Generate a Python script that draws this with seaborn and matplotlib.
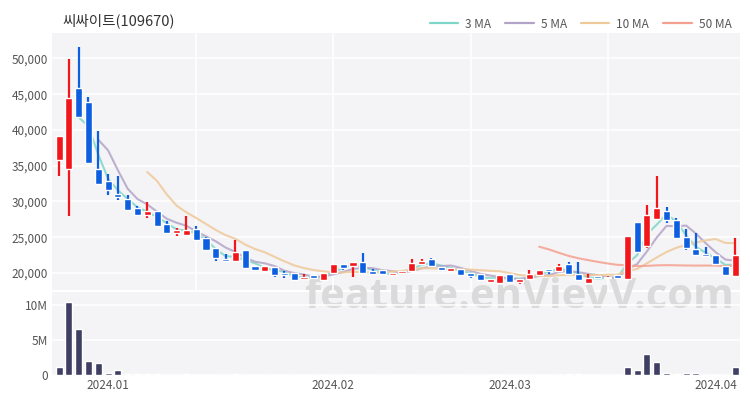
import numpy as np
import pandas as pd
import matplotlib
matplotlib.use('Agg')
import matplotlib.pyplot as plt
import seaborn as sns
from matplotlib.lines import Line2D
from matplotlib.patches import Rectangle
from matplotlib.ticker import FuncFormatter

# daily candles (trading-day index 0..69)
opens = [35800, 34600, 45800, 43900, 34500, 32900, 31100, 30400, 29150, 28150,
         28700, 26900, 25600, 25350, 26200, 24900, 23500, 21950, 21700, 23250,
         21000, 20300, 20800, 20000, 20000, 19150, 19700, 19000, 20000, 21250,
         21000, 21550, 20300, 20400, 19700, 20000, 20300, 21250, 21950, 20850,
         20300, 20550, 20000, 19850, 18750, 18600, 19850, 18750, 19150, 19700,
         20550, 20300, 21250, 19850, 18600, 19600, 19300, 19700, 19150, 27150,
         23800, 27600, 28700, 27450, 25050, 23350, 22650, 22550, 20950, 19600]
highs = [39100, 49900, 51600, 44600, 39800, 33900, 33500, 30950, 29400, 29950,
         28700, 27300, 26300, 28000, 26600, 25050, 23500, 22650, 24650, 23250,
         21000, 20980, 20800, 20300, 20000, 19850, 19700, 20000, 21300, 21250,
         21550, 22800, 20550, 20400, 20000, 20300, 22000, 21950, 22100, 20850,
         20700, 20550, 20000, 19850, 19150, 19700, 19850, 19150, 20400, 20400,
         20550, 21250, 21550, 21550, 19850, 19600, 19600, 19700, 25200, 27150,
         29550, 33500, 29250, 27700, 26200, 25600, 23650, 22550, 20950, 24900]
lows = [33600, 28000, 41700, 35400, 32500, 30950, 30250, 28850, 28150, 27700,
        26600, 25600, 25200, 25350, 24600, 23200, 21700, 21700, 21700, 20700,
        20400, 20300, 19450, 19300, 19000, 19150, 19150, 19000, 20000, 20450,
        19450, 20000, 19850, 19850, 19700, 20000, 20300, 21250, 21000, 20400,
        20300, 19700, 19300, 19000, 18750, 18600, 18750, 18450, 19150, 19700,
        19850, 20300, 19850, 19000, 18600, 19300, 19300, 19300, 19150, 22950,
        23500, 27600, 27000, 24900, 23250, 22500, 22400, 21250, 19700, 19450]
closes = [39100, 44400, 41800, 35400, 32500, 31650, 30550, 28850, 28150, 28700,
          26600, 25600, 26050, 26050, 24650, 23250, 22100, 21700, 22950, 20700,
          20400, 20980, 19750, 19750, 19000, 19450, 19300, 20000, 21250, 20700,
          21550, 20000, 19850, 19850, 20000, 20300, 21400, 21700, 21000, 20400,
          20700, 19700, 19600, 19000, 19150, 19700, 18750, 19150, 19850, 20400,
          20300, 20950, 19850, 19000, 19300, 19300, 19450, 19300, 25200, 22950,
          28150, 29150, 27450, 24900, 23500, 22550, 22400, 21250, 19700, 22550]
volumes = [1.2, 10.4, 6.6, 2.0, 1.7, 0.35, 0.65, 0.12, 0.1, 0.1,
           0.08, 0.07, 0.06, 0.08, 0.05, 0.04, 0.04, 0.03, 0.1, 0.04,
           0.03, 0.03, 0.03, 0.02, 0.02, 0.02, 0.02, 0.02, 0.03, 0.03,
           0.03, 0.06, 0.02, 0.02, 0.02, 0.02, 0.04, 0.03, 0.03, 0.02,
           0.02, 0.02, 0.02, 0.02, 0.02, 0.03, 0.02, 0.02, 0.03, 0.03,
           0.02, 0.03, 0.1, 0.2, 0.05, 0.03, 0.02, 0.03, 1.1, 0.7,
           3.0, 1.9, 0.25, 0.2, 0.25, 0.3, 0.06, 0.05, 0.05, 1.1]

tick_pos = [5, 28, 46, 67]
tick_labels = ['2024.01', '2024.02', '2024.03', '2024.04']
grid_pos = [14, 28, 42, 56]

df = pd.DataFrame({'open': opens, 'high': highs, 'low': lows,
                   'close': closes, 'volume': np.array(volumes) * 1e6})
df['idx'] = np.arange(len(df))
for n in [3, 5, 10, 50]:
    df[f'ma{n}'] = df['close'].rolling(n).mean()

sns.set_theme(style='white')
plt.rcParams['font.family'] = ['Noto Sans CJK KR', 'DejaVu Sans']

UP = '#f2161b'
DOWN = '#0d5fe0'
BG = '#f4f4f6'
ma_colors = {'3 MA': '#7dd6c8', '5 MA': '#b2a4c8', '10 MA': '#efc99a', '50 MA': '#f4a090'}

fig = plt.figure(figsize=(7.5, 4), dpi=100)
fig.patch.set_facecolor('white')

L, W = 52 / 750, 688 / 750
ax = fig.add_axes([L, 1 - 290 / 400, W, 257 / 400])
axv = fig.add_axes([L, 1 - 376 / 400, W, 84 / 400])

# backgrounds + watermark drawn under the (transparent) axes
for a in (ax, axv):
    p = a.get_position()
    fig.patches.append(Rectangle((p.x0, p.y0), p.width, p.height, transform=fig.transFigure,
                                 facecolor=BG, edgecolor='none', zorder=-3))
    a.set_facecolor('none')
fig.text(519 / 750, 1 - 298 / 400, 'feature.enVievV.com', fontsize=30, fontweight='bold',
         color='#dadada', ha='center', va='center', zorder=-1, family='Open Sans')

# candles
up = df['close'] >= df['open']
colors = np.where(up, UP, DOWN)
body_lo = np.minimum(df['open'], df['close'])
body_h = np.maximum((df['close'] - df['open']).abs(), 60)
ax.vlines(df['idx'], df['low'], df['high'], colors=colors, lw=1.6, zorder=3)
ax.bar(df['idx'], body_h, bottom=body_lo, width=0.72, color=colors, zorder=3)

for name, col in [('3 MA', 'ma3'), ('5 MA', 'ma5'), ('10 MA', 'ma10'), ('50 MA', 'ma50')]:
    sns.lineplot(data=df, x='idx', y=col, ax=ax, color=ma_colors[name], lw=1.5,
                 alpha=0.85, zorder=2, legend=False)

ax.set_xlim(-0.72, 69.5)
ax.set_ylim(17613, 53556)
ax.set_yticks(range(20000, 50001, 5000))
ax.yaxis.set_major_formatter(FuncFormatter(lambda v, p: f'{int(v):,}'))
ax.set_xticks(grid_pos)
ax.set_xticklabels([])
ax.grid(True, color='white', lw=1.1)
ax.set_xlabel('')
ax.set_ylabel('')

# volume
sns.barplot(data=df, x='idx', y='volume', ax=axv, native_scale=True, color='#3f3f64',
            width=0.72, errorbar=None, saturation=1, zorder=3)
axv.set_xlim(-0.72, 69.5)
axv.set_ylim(-0.145e6, 11.9e6)
axv.set_yticks([0, 5e6, 10e6])
axv.set_yticklabels(['0', '5M', '10M'])
axv.set_xticks(tick_pos)
axv.set_xticklabels(tick_labels)
axv.grid(True, axis='y', color='white', lw=1.1)
axv.set_xlabel('')
axv.set_ylabel('')

for a in (ax, axv):
    for s in a.spines.values():
        s.set_visible(False)
    a.tick_params(length=0, labelsize=8.5, labelcolor='#555555', pad=3)
axv.tick_params(axis='x', pad=2)

fig.text(62 / 750, 1 - 21 / 400, '씨싸이트(109670)', fontsize=10.5, color='#333333',
         va='center', ha='left')

handles = [Line2D([], [], color=c, lw=1.6) for c in ma_colors.values()]
fig.legend(handles, list(ma_colors.keys()), loc='center right', ncol=4, frameon=False,
           bbox_to_anchor=(742 / 750, 1 - 24 / 400), fontsize=8.5, handlelength=2.4,
           columnspacing=1.2, handletextpad=0.6, labelcolor='#555555')

fig.savefig('out.png', dpi=100)
